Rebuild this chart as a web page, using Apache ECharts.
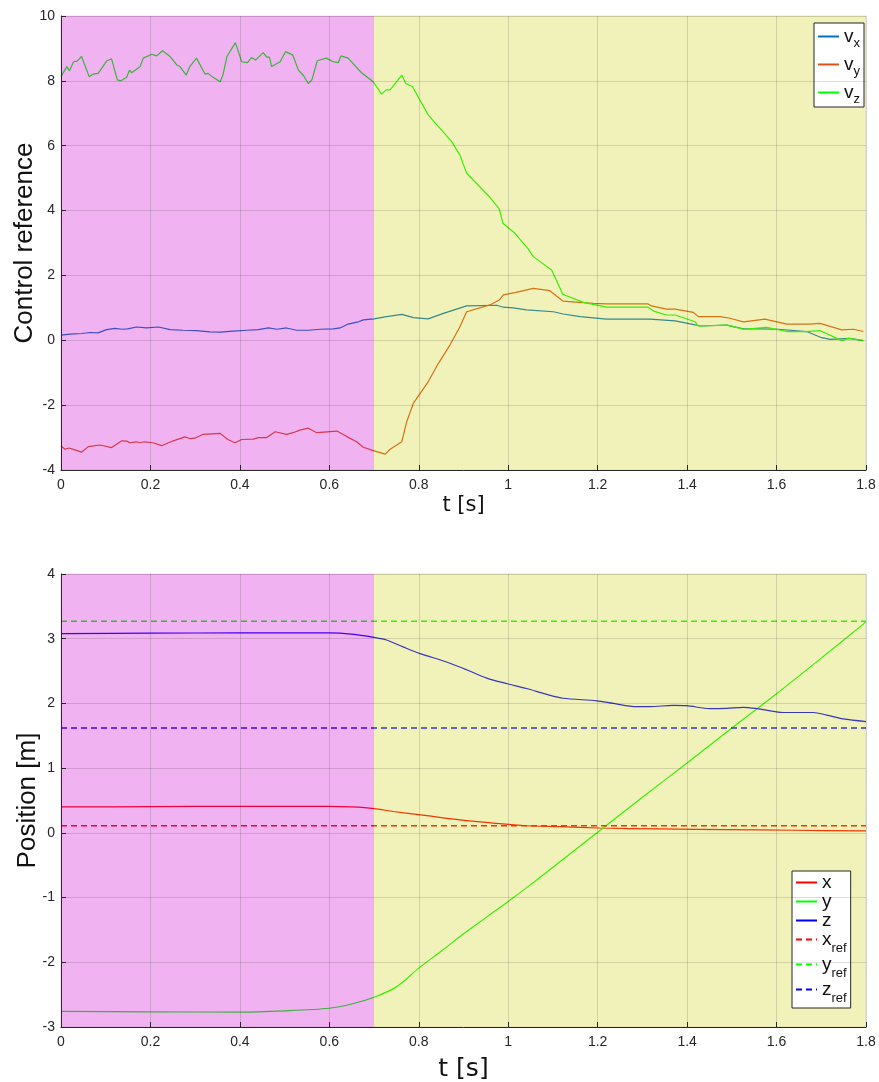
<!DOCTYPE html>
<html>
<head>
<meta charset="utf-8">
<script src="https://cdn.jsdelivr.net/npm/echarts@6/dist/echarts.min.js"></script>
<style>html,body{margin:0;padding:0;background:#fff;}#c{width:879px;height:1082px;}</style>
</head>
<body>
<div id="c"></div>
<script>
// ---------- data ----------
const xTicks = [0, 0.2, 0.4, 0.6, 0.8, 1, 1.2, 1.4, 1.6, 1.8];
const phaseBreak = 0.7;

const vxT = [0,0.020,0.046,0.065,0.083,0.102,0.121,0.136,0.149,0.169,0.191,0.218,0.244,0.273,0.303,0.333,0.356,0.385,0.415,0.441,0.464,0.483,0.504,0.527,0.553,0.580,0.609,0.624,0.642,0.665,0.676,0.700,0.728,0.762,0.788,0.821,0.855,0.907,0.974,0.989,1.011,1.041,1.101,1.123,1.161,1.220,1.317,1.373,1.421,1.429,1.489,1.526,1.563,1.604,1.667,1.701,1.720,1.764,1.794];
const vxV = [0.16,0.19,0.21,0.24,0.23,0.33,0.37,0.34,0.35,0.41,0.38,0.41,0.33,0.31,0.30,0.26,0.25,0.28,0.31,0.33,0.38,0.34,0.38,0.31,0.31,0.34,0.35,0.38,0.50,0.57,0.63,0.66,0.73,0.80,0.70,0.66,0.83,1.06,1.08,1.02,1.00,0.94,0.88,0.81,0.73,0.65,0.65,0.60,0.47,0.44,0.47,0.35,0.35,0.34,0.27,0.08,0.03,0.06,-0.01];

const vyT = [0,0.009,0.018,0.031,0.046,0.061,0.087,0.113,0.125,0.136,0.147,0.154,0.169,0.176,0.186,0.206,0.225,0.251,0.277,0.288,0.299,0.318,0.356,0.373,0.389,0.404,0.430,0.441,0.460,0.479,0.504,0.519,0.534,0.553,0.572,0.617,0.639,0.661,0.676,0.700,0.725,0.736,0.762,0.773,0.788,0.821,0.844,0.870,0.892,0.907,0.959,0.980,0.989,1.015,1.056,1.093,1.122,1.190,1.220,1.313,1.320,1.354,1.373,1.414,1.425,1.474,1.496,1.526,1.574,1.623,1.675,1.697,1.746,1.772,1.794];
const vyV = [-3.26,-3.36,-3.32,-3.38,-3.45,-3.28,-3.23,-3.31,-3.20,-3.10,-3.11,-3.16,-3.13,-3.16,-3.13,-3.16,-3.25,-3.10,-2.98,-3.03,-3.02,-2.90,-2.87,-3.06,-3.16,-3.06,-3.05,-3.00,-3.00,-2.82,-2.90,-2.85,-2.77,-2.71,-2.85,-2.80,-2.97,-3.13,-3.30,-3.41,-3.51,-3.36,-3.13,-2.51,-1.94,-1.28,-0.71,-0.14,0.42,0.88,1.09,1.24,1.40,1.47,1.60,1.53,1.21,1.14,1.12,1.12,1.06,0.96,0.96,0.86,0.73,0.73,0.68,0.57,0.65,0.50,0.50,0.52,0.32,0.34,0.27];

const vzT = [0,0.013,0.019,0.028,0.036,0.046,0.063,0.072,0.083,0.102,0.113,0.126,0.134,0.147,0.153,0.158,0.177,0.184,0.203,0.214,0.227,0.244,0.259,0.266,0.280,0.288,0.303,0.322,0.329,0.338,0.356,0.362,0.371,0.390,0.404,0.417,0.426,0.435,0.452,0.460,0.466,0.471,0.490,0.502,0.518,0.531,0.543,0.553,0.561,0.573,0.593,0.609,0.620,0.626,0.642,0.672,0.698,0.717,0.727,0.736,0.762,0.771,0.786,0.821,0.874,0.892,0.907,0.959,0.980,0.988,1.015,1.045,1.056,1.097,1.122,1.168,1.220,1.313,1.325,1.354,1.373,1.418,1.425,1.489,1.526,1.578,1.623,1.664,1.697,1.746,1.761,1.794];
const vzV = [8.13,8.44,8.31,8.59,8.61,8.75,8.13,8.21,8.23,8.61,8.68,8.03,8.00,8.11,8.33,8.25,8.44,8.70,8.82,8.77,8.93,8.75,8.49,8.44,8.18,8.44,8.70,8.21,8.23,8.13,7.97,8.18,8.75,9.18,8.59,8.56,8.72,8.64,8.87,8.73,8.73,8.44,8.59,8.90,8.80,8.33,8.15,7.92,8.03,8.62,8.70,8.59,8.56,8.77,8.70,8.25,7.97,7.59,7.72,7.72,8.18,7.92,7.82,6.95,6.12,5.71,5.15,4.41,4.05,3.61,3.30,2.81,2.58,2.17,1.42,1.17,1.02,1.02,0.90,0.78,0.78,0.57,0.44,0.47,0.34,0.40,0.27,0.27,0.30,-0.01,0.06,-0.01];

const xT = [0,0.2,0.4,0.6,0.65,0.7,0.743,0.818,0.892,0.967,1.041,1.116,1.205,1.339,1.489,1.638,1.8];
const xV = [0.40,0.405,0.41,0.41,0.40,0.375,0.33,0.265,0.20,0.15,0.11,0.095,0.075,0.06,0.05,0.04,0.03];

const yT = [0,0.2,0.4,0.5,0.6,0.65,0.7,0.75,0.8,0.85,0.9,0.95,1.0,1.05,1.1,1.15,1.2,1.3,1.4,1.5,1.6,1.7,1.8];
const yV = [-2.76,-2.765,-2.77,-2.75,-2.71,-2.645,-2.54,-2.38,-2.09,-1.83,-1.56,-1.31,-1.06,-0.80,-0.53,-0.26,0.01,0.55,1.08,1.62,2.15,2.70,3.26];

const zT = [0,0.2,0.4,0.6,0.65,0.7,0.728,0.766,0.803,0.862,0.907,0.952,1.0,1.041,1.086,1.123,1.198,1.235,1.287,1.317,1.369,1.399,1.451,1.489,1.526,1.556,1.615,1.682,1.712,1.749,1.8];
const zV = [3.08,3.085,3.09,3.09,3.07,3.02,2.98,2.87,2.77,2.64,2.52,2.39,2.30,2.23,2.14,2.08,2.04,2.00,1.95,1.95,1.97,1.965,1.92,1.925,1.94,1.92,1.86,1.86,1.82,1.76,1.72];

const xRef = 0.11, yRef = 3.27, zRef = 1.62;

// ---------- helpers ----------
const pairs = (t, v) => t.map((ti, i) => [ti, v[i]]);
const FONT = 'Liberation Sans';
const AX = '#262626';

function lineSeries(name, t, v, color, idx, smooth, dashed) {
  return {
    name, type: 'line', xAxisIndex: idx, yAxisIndex: idx,
    data: pairs(t, v), symbol: 'none', smooth: smooth ? 0.3 : false,
    lineStyle: { color, width: dashed ? 1.5 : 1.2, type: dashed ? [6, 4] : 'solid' },
    itemStyle: { color }, z: 2, animation: false
  };
}
function patchSeries(idx) {
  return {
    type: 'line', xAxisIndex: idx, yAxisIndex: idx, data: [], z: 3, silent: true,
    markArea: {
      silent: true, z: 3,
      data: [
        [{ xAxis: 0, itemStyle: { color: 'rgba(204,0,204,0.3)' } }, { xAxis: phaseBreak }],
        [{ xAxis: phaseBreak, itemStyle: { color: 'rgba(204,204,0,0.27)' } }, { xAxis: 1.8 }]
      ]
    }
  };
}
function xAxisDef(idx, nameSize, gap) {
  return {
    type: 'value', gridIndex: idx, min: 0, max: 1.8, interval: 0.2, z: 10,
    name: 't [s]', nameLocation: 'middle', nameGap: gap, nameMoveOverlap: false,
    nameTextStyle: { fontFamily: 'DejaVu Sans', fontSize: nameSize, color: '#111' },
    axisLine: { onZero: false, lineStyle: { color: AX, width: 1 } },
    axisTick: { inside: true, length: 5, lineStyle: { color: AX } },
    axisLabel: { fontFamily: FONT, fontSize: 14, color: AX, margin: 8, formatter: v => String(+v.toFixed(1)) },
    splitLine: { show: true, lineStyle: { color: 'rgba(0,0,0,0.13)', width: 1 } }
  };
}
function yAxisDef(idx, name, min, max, interval, gap) {
  return {
    type: 'value', gridIndex: idx, min, max, interval, z: 10,
    name, nameLocation: 'middle', nameGap: gap, nameRotate: 90, nameMoveOverlap: false,
    nameTextStyle: { fontFamily: FONT, fontSize: 26, color: '#111' },
    axisLine: { show: true, onZero: false, lineStyle: { color: AX, width: 1 } },
    axisTick: { show: true, inside: true, length: 5, lineStyle: { color: AX } },
    axisLabel: { fontFamily: FONT, fontSize: 14, color: AX, margin: 6 },
    splitLine: { show: true, lineStyle: { color: 'rgba(0,0,0,0.13)', width: 1 } }
  };
}

const legendText = {
  vx: '{m|v}{s|x}', vy: '{m|v}{s|y}', vz: '{m|v}{s|z}',
  x: '{p|x}', y: '{p|y}', z: '{p|z}',
  xref: '{m|x}{s|ref}', yref: '{m|y}{s|ref}', zref: '{m|z}{s|ref}'
};
function legendDef(names, left, top, idx) {
  return {
    data: names, orient: 'vertical', left, top,
    backgroundColor: '#fff', borderColor: AX, borderWidth: 1,
    padding: idx === 0 ? [4, 4, 1, 3] : [2, 4, 3, 3],
    itemWidth: 21, itemHeight: 10, itemGap: idx === 0 ? 5 : 0, selectedMode: false,
    itemStyle: { opacity: 0 },
    formatter: n => legendText[n],
    textStyle: {
      color: '#111', fontFamily: FONT,
      rich: {
        m: { fontSize: 19, lineHeight: idx === 0 ? 27 : 31, fontFamily: FONT, color: '#111' },
        s: { fontSize: 13, verticalAlign: 'bottom', fontFamily: FONT, color: '#111' },
        p: { fontSize: 19, lineHeight: 19, fontFamily: FONT, color: '#111' }
      }
    }
  };
}

const option = {
  backgroundColor: '#fff',
  animation: false,
  grid: [
    { left: 61, right: 13, top: 16, height: 454, outerBoundsMode: 'none', containLabel: false, show: true, borderColor: '#e3e3e3', borderWidth: 1, backgroundColor: 'transparent' },
    { left: 61, right: 13, top: 574, height: 453, outerBoundsMode: 'none', containLabel: false, show: true, borderColor: '#e3e3e3', borderWidth: 1, backgroundColor: 'transparent' }
  ],
  xAxis: [xAxisDef(0, 21, 25), xAxisDef(1, 25, 30)],
  yAxis: [yAxisDef(0, 'Control reference', -4, 10, 2, 23), yAxisDef(1, 'Position [m]', -3, 4, 1, 20)],
  legend: [
    legendDef(['vx', 'vy', 'vz'], 814, 23, 0),
    legendDef(['x', 'y', 'z', 'xref', 'yref', 'zref'], 792, 871, 1)
  ],
  series: [
    lineSeries('vx', vxT, vxV, '#0072BD', 0, false, false),
    lineSeries('vy', vyT, vyV, '#D95319', 0, false, false),
    lineSeries('vz', vzT, vzV, '#00FF00', 0, false, false),
    patchSeries(0),
    lineSeries('x', xT, xV, '#FF0000', 1, true, false),
    lineSeries('y', yT, yV, '#00FF00', 1, true, false),
    lineSeries('z', zT, zV, '#0000FF', 1, true, false),
    lineSeries('xref', [0, 1.8], [xRef, xRef], '#FF0000', 1, false, true),
    lineSeries('yref', [0, 1.8], [yRef, yRef], '#00FF00', 1, false, true),
    lineSeries('zref', [0, 1.8], [zRef, zRef], '#0000FF', 1, false, true),
    patchSeries(1)
  ]
};
const chart = echarts.init(document.getElementById('c'), null, { renderer: 'canvas' });
chart.setOption(option);
</script>
</body>
</html>
